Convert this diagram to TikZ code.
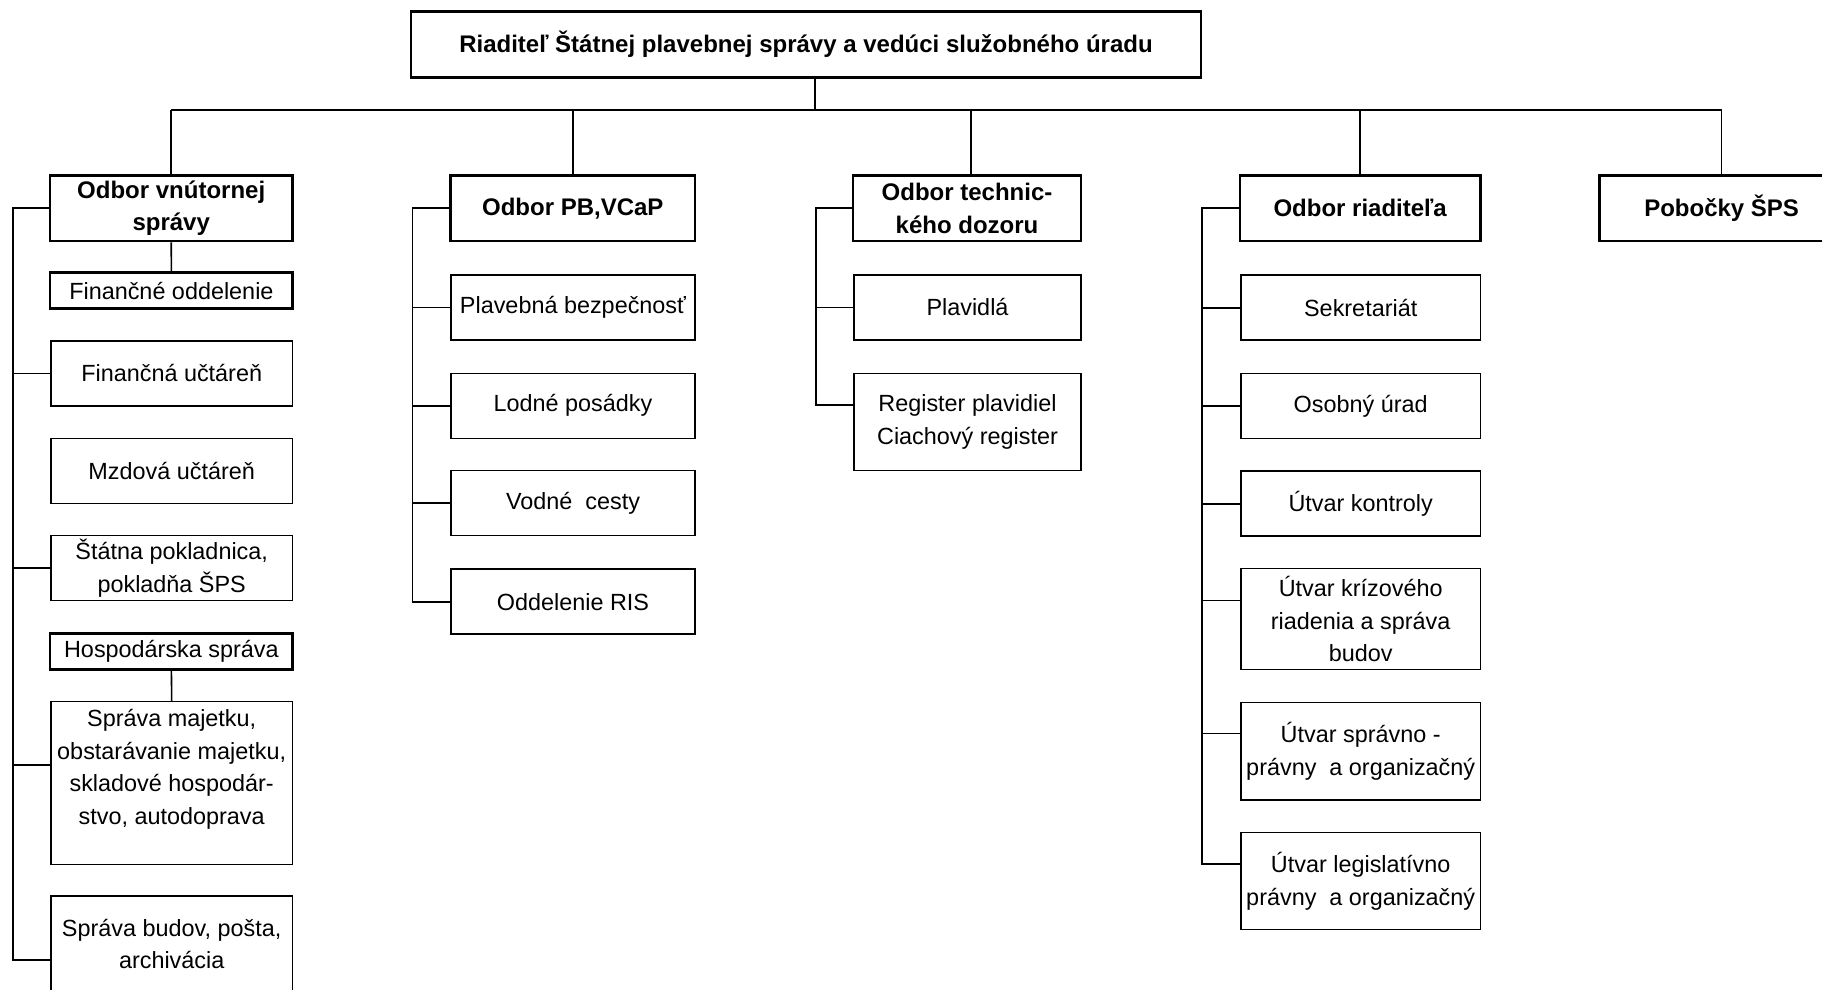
\documentclass[tikz,border=0pt]{standalone}
\usepackage{fontspec}
\setmainfont{Liberation Sans}
\usepackage{tikz}

\begin{document}
\begin{tikzpicture}[x=0.5pt, y=-0.5pt,
  every node/.style={inner sep=0pt, align=center, font=\fontsize{11.7}{16.3}\selectfont},
  head/.style={draw, line width=1.4pt, font=\fontsize{12}{16.3}\selectfont\bfseries, minimum height=32.7pt},
  unit/.style={draw, line width=0.75pt, minimum width=120.75pt, minimum height=32.5pt},
  tall/.style={unit, minimum height=48.7pt},
  sub/.style={draw, line width=1.4pt, minimum width=121.35pt, minimum height=18pt},
  link/.style={line width=0.8pt}]
\fill [white] (0, 0) rectangle (1822, 990);
\useasboundingbox (0, 0) rectangle (1822, 990);
\node (1) [head, minimum width=395pt, minimum height=32.8pt] at (806, 44.5) {Riaditeľ Štátnej plavebnej správy a vedúci služobného úradu};
\node (2) [head, minimum width=121.25pt] at (171.2, 208.3) {Odbor vnútornej\\správy};
\node (3) [head, minimum width=122.25pt] at (572.8, 208.3) {Odbor PB,VCaP};
\node (4) [head, minimum width=114pt] at (967, 208.3) {Odbor technic-\\kého dozoru};
\node (5) [head, minimum width=120.2pt] at (1360.2, 208.3) {Odbor riaditeľa};
\node (6) [head, minimum width=122pt] at (1721.6, 208.3) {Pobočky ŠPS};
\node (7) [sub] at (171.4, 290.7) {Finančné oddelenie};
\node (8) [unit] at (171.7, 373.4) {Finančná učtáreň};
\node (9) [unit] at (171.7, 470.8) {Mzdová učtáreň};
\node (10) [unit] at (171.7, 568.2) {Štátna pokladnica,\\pokladňa ŠPS};
\node (11) [sub] at (171.4, 651.3) {Hospodárska správa};
\node (12) [unit, minimum height=81.3pt] at (171.7, 783) {Správa majetku,\\obstarávanie majetku,\\skladové hospodár-\\stvo, autodoprava\\\mbox{}};
\node (13) [unit, minimum height=48pt] at (171.7, 944) {Správa budov, pošta,\\archivácia};
\node (14) [unit, minimum width=122pt] at (573, 307.4) {Plavebná bezpečnosť};
\node (15) [unit, minimum width=122pt] at (573, 405.8) {Lodné posádky};
\node (16) [unit, minimum width=122pt] at (573, 503.2) {Vodné\ \ cesty};
\node (17) [unit, minimum width=122pt] at (573, 601.7) {Oddelenie RIS};
\node (18) [unit, minimum width=113.5pt] at (967.5, 307.4) {Plavidlá};
\node (19) [tall, minimum width=113.5pt] at (967.5, 422) {Register plavidiel\\Ciachový register};
\node (20) [unit, minimum width=119.7pt] at (1360.7, 307.7) {Sekretariát};
\node (21) [unit, minimum width=119.7pt] at (1360.7, 406.2) {Osobný úrad};
\node (22) [unit, minimum width=119.7pt] at (1360.7, 503.7) {Útvar kontroly};
\node (23) [unit, minimum width=119.7pt, minimum height=50.3pt] at (1360.7, 619) {Útvar krízového\\riadenia a správa\\budov};
\node (24) [tall, minimum width=119.7pt] at (1360.7, 751.1) {Útvar správno -\\právny\ \ a organizačný};
\node (25) [tall, minimum width=119.7pt] at (1360.7, 881) {Útvar legislatívno\\právny\ \ a organizačný};
% buses
\coordinate (bus) at (815, 110);
\coordinate (b1) at (13, 0);
\coordinate (b2) at (412.5, 0);
\coordinate (b3) at (815.7, 0);
\coordinate (b4) at (1202, 0);
\coordinate (4n) at ([xshift=2pt]4.north);
\coordinate (12s) at ([yshift=-32pt]12.north west);
\coordinate (13s) at ([yshift=-32.5pt]13.north west);
\coordinate (19s) at ([yshift=-16.2pt]19.north west);
\coordinate (23s) at ([yshift=-16.2pt]23.north west);
\coordinate (24s) at ([yshift=-16pt]24.north west);
\coordinate (25s) at ([yshift=-16.2pt]25.north west);
\draw [link] (bus |- 1.south) -- (bus);
\draw [line width=1pt] (2.north |- bus) -- (6.north |- bus);
\draw [link] (2.north |- bus) -- (2.north);
\draw [link] (3.north |- bus) -- (3.north);
\draw [link] (4n |- bus) -- (4n);
\draw [link] (5.north |- bus) -- (5.north);
\draw [link] (6.north |- bus) -- (6.north);
% Odbor vnutornej spravy
\draw [link] (2.south) -- (7.north);
\draw [link] (11.south) -- (12.north);
\draw [link] (2.west) -- (b1 |- 2.west) -- (b1 |- 13s) -- (13s);
\draw [link] (b1 |- 8.west) -- (8.west);
\draw [link] (b1 |- 10.west) -- (10.west);
\draw [link] (b1 |- 12s) -- (12s);
% Odbor PB,VCaP
\draw [link] (3.west) -- (b2 |- 3.west) -- (b2 |- 17.west) -- (17.west);
\draw [link] (b2 |- 14.west) -- (14.west);
\draw [link] (b2 |- 15.west) -- (15.west);
\draw [link] (b2 |- 16.west) -- (16.west);
% Odbor technickeho dozoru
\draw [link] (4.west) -- (b3 |- 4.west) -- (b3 |- 19s) -- (19s);
\draw [link] (b3 |- 18.west) -- (18.west);
% Odbor riaditela
\draw [link] (5.west) -- (b4 |- 5.west) -- (b4 |- 25s) -- (25s);
\draw [link] (b4 |- 20.west) -- (20.west);
\draw [link] (b4 |- 21.west) -- (21.west);
\draw [link] (b4 |- 22.west) -- (22.west);
\draw [link] (b4 |- 23s) -- (23s);
\draw [link] (b4 |- 24s) -- (24s);
\end{tikzpicture}
\end{document}
